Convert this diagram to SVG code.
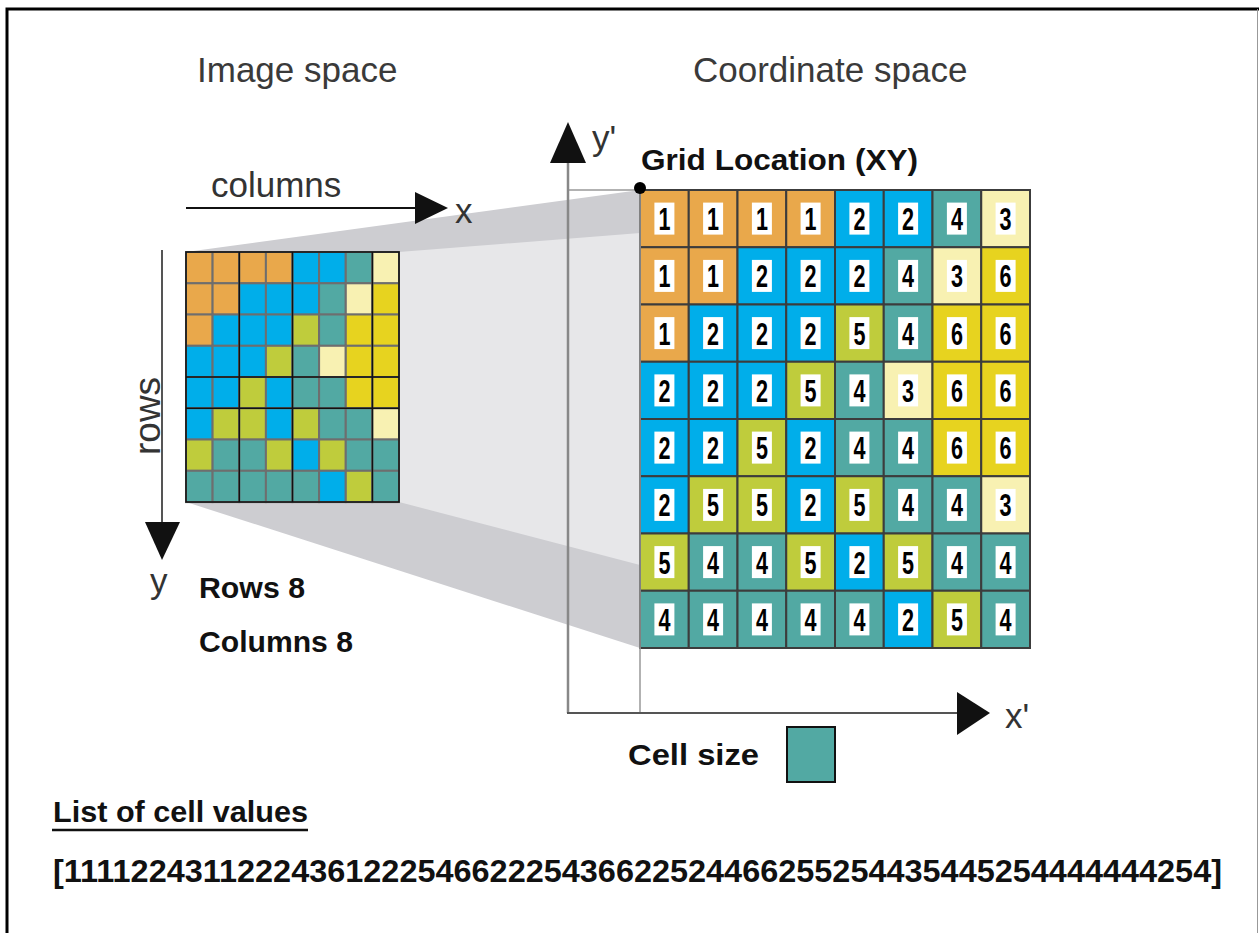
<svg xmlns="http://www.w3.org/2000/svg" width="1259" height="933" viewBox="0 0 1259 933">
<style>
.title{font-family:"Liberation Sans",Arial,sans-serif;font-size:35px;fill:#3a3a3a}
.ax{font-family:"Liberation Sans",Arial,sans-serif;font-size:35px;fill:#333}
.lbl{font-family:"Liberation Sans",Arial,sans-serif;font-size:30px;font-weight:bold;fill:#111}
.dg{font-family:"Liberation Sans",Arial,sans-serif;font-size:32px;font-weight:bold;fill:#000;text-anchor:middle}
.c1{fill:#E9A84B}.c2{fill:#00AEEA}.c3{fill:#F8F1B2}.c4{fill:#52A9A3}.c5{fill:#BFCC3C}.c6{fill:#E7D31F}
.sg rect{stroke:#6e6e6e;stroke-width:2}
.bg rect{stroke:#3c3c3c;stroke-width:2}
.wb{fill:#fff}
</style>
<rect width="1259" height="933" fill="#fff"/>
<path d="M7,933 V9 H1259" fill="none" stroke="#000" stroke-width="3"/>
<line x1="1257.5" y1="9" x2="1257.5" y2="933" stroke="#999" stroke-width="1"/>

<g id="projection">
<polygon points="186,252 640,190 640,648 186,502" fill="#cdcdd1"/>
<polygon points="399,252 640,233 640,565 399,502" fill="#e7e7e9"/>
</g>

<g id="titles">
<text class="title" x="197" y="82">Image space</text>
<text class="title" x="693" y="82">Coordinate space</text>
</g>

<g id="image-grid" class="sg">
<rect class="c1" x="186" y="252" width="26.6" height="31.3"/><rect class="c1" x="212.6" y="252" width="26.6" height="31.3"/><rect class="c1" x="239.3" y="252" width="26.6" height="31.3"/><rect class="c1" x="265.9" y="252" width="26.6" height="31.3"/><rect class="c2" x="292.5" y="252" width="26.6" height="31.3"/><rect class="c2" x="319.1" y="252" width="26.6" height="31.3"/><rect class="c4" x="345.8" y="252" width="26.6" height="31.3"/><rect class="c3" x="372.4" y="252" width="26.6" height="31.3"/>
<rect class="c1" x="186" y="283.3" width="26.6" height="31.3"/><rect class="c1" x="212.6" y="283.3" width="26.6" height="31.3"/><rect class="c2" x="239.3" y="283.3" width="26.6" height="31.3"/><rect class="c2" x="265.9" y="283.3" width="26.6" height="31.3"/><rect class="c2" x="292.5" y="283.3" width="26.6" height="31.3"/><rect class="c4" x="319.1" y="283.3" width="26.6" height="31.3"/><rect class="c3" x="345.8" y="283.3" width="26.6" height="31.3"/><rect class="c6" x="372.4" y="283.3" width="26.6" height="31.3"/>
<rect class="c1" x="186" y="314.5" width="26.6" height="31.3"/><rect class="c2" x="212.6" y="314.5" width="26.6" height="31.3"/><rect class="c2" x="239.3" y="314.5" width="26.6" height="31.3"/><rect class="c2" x="265.9" y="314.5" width="26.6" height="31.3"/><rect class="c5" x="292.5" y="314.5" width="26.6" height="31.3"/><rect class="c4" x="319.1" y="314.5" width="26.6" height="31.3"/><rect class="c6" x="345.8" y="314.5" width="26.6" height="31.3"/><rect class="c6" x="372.4" y="314.5" width="26.6" height="31.3"/>
<rect class="c2" x="186" y="345.8" width="26.6" height="31.3"/><rect class="c2" x="212.6" y="345.8" width="26.6" height="31.3"/><rect class="c2" x="239.3" y="345.8" width="26.6" height="31.3"/><rect class="c5" x="265.9" y="345.8" width="26.6" height="31.3"/><rect class="c4" x="292.5" y="345.8" width="26.6" height="31.3"/><rect class="c3" x="319.1" y="345.8" width="26.6" height="31.3"/><rect class="c6" x="345.8" y="345.8" width="26.6" height="31.3"/><rect class="c6" x="372.4" y="345.8" width="26.6" height="31.3"/>
<rect class="c2" x="186" y="377" width="26.6" height="31.3"/><rect class="c2" x="212.6" y="377" width="26.6" height="31.3"/><rect class="c5" x="239.3" y="377" width="26.6" height="31.3"/><rect class="c2" x="265.9" y="377" width="26.6" height="31.3"/><rect class="c4" x="292.5" y="377" width="26.6" height="31.3"/><rect class="c4" x="319.1" y="377" width="26.6" height="31.3"/><rect class="c6" x="345.8" y="377" width="26.6" height="31.3"/><rect class="c6" x="372.4" y="377" width="26.6" height="31.3"/>
<rect class="c2" x="186" y="408.3" width="26.6" height="31.3"/><rect class="c5" x="212.6" y="408.3" width="26.6" height="31.3"/><rect class="c5" x="239.3" y="408.3" width="26.6" height="31.3"/><rect class="c2" x="265.9" y="408.3" width="26.6" height="31.3"/><rect class="c5" x="292.5" y="408.3" width="26.6" height="31.3"/><rect class="c4" x="319.1" y="408.3" width="26.6" height="31.3"/><rect class="c4" x="345.8" y="408.3" width="26.6" height="31.3"/><rect class="c3" x="372.4" y="408.3" width="26.6" height="31.3"/>
<rect class="c5" x="186" y="439.5" width="26.6" height="31.3"/><rect class="c4" x="212.6" y="439.5" width="26.6" height="31.3"/><rect class="c4" x="239.3" y="439.5" width="26.6" height="31.3"/><rect class="c5" x="265.9" y="439.5" width="26.6" height="31.3"/><rect class="c2" x="292.5" y="439.5" width="26.6" height="31.3"/><rect class="c5" x="319.1" y="439.5" width="26.6" height="31.3"/><rect class="c4" x="345.8" y="439.5" width="26.6" height="31.3"/><rect class="c4" x="372.4" y="439.5" width="26.6" height="31.3"/>
<rect class="c4" x="186" y="470.8" width="26.6" height="31.3"/><rect class="c4" x="212.6" y="470.8" width="26.6" height="31.3"/><rect class="c4" x="239.3" y="470.8" width="26.6" height="31.3"/><rect class="c4" x="265.9" y="470.8" width="26.6" height="31.3"/><rect class="c4" x="292.5" y="470.8" width="26.6" height="31.3"/><rect class="c2" x="319.1" y="470.8" width="26.6" height="31.3"/><rect class="c5" x="345.8" y="470.8" width="26.6" height="31.3"/><rect class="c4" x="372.4" y="470.8" width="26.6" height="31.3"/>
<path d="M239.3,252V502M292.5,252V502M372.4,252V502M186,377H399M186,408.3H399" stroke="#111" stroke-width="1.5" fill="none"/>
<rect x="186" y="252" width="213" height="250" fill="none" style="stroke:#111;stroke-width:1.5"/>
</g>

<g id="coordinate-grid" class="bg">
<rect class="c1" x="640" y="190" width="48.75" height="57.25"/><rect class="c1" x="688.75" y="190" width="48.75" height="57.25"/><rect class="c1" x="737.5" y="190" width="48.75" height="57.25"/><rect class="c1" x="786.25" y="190" width="48.75" height="57.25"/><rect class="c2" x="835" y="190" width="48.75" height="57.25"/><rect class="c2" x="883.75" y="190" width="48.75" height="57.25"/><rect class="c4" x="932.5" y="190" width="48.75" height="57.25"/><rect class="c3" x="981.25" y="190" width="48.75" height="57.25"/>
<rect class="c1" x="640" y="247.25" width="48.75" height="57.25"/><rect class="c1" x="688.75" y="247.25" width="48.75" height="57.25"/><rect class="c2" x="737.5" y="247.25" width="48.75" height="57.25"/><rect class="c2" x="786.25" y="247.25" width="48.75" height="57.25"/><rect class="c2" x="835" y="247.25" width="48.75" height="57.25"/><rect class="c4" x="883.75" y="247.25" width="48.75" height="57.25"/><rect class="c3" x="932.5" y="247.25" width="48.75" height="57.25"/><rect class="c6" x="981.25" y="247.25" width="48.75" height="57.25"/>
<rect class="c1" x="640" y="304.5" width="48.75" height="57.25"/><rect class="c2" x="688.75" y="304.5" width="48.75" height="57.25"/><rect class="c2" x="737.5" y="304.5" width="48.75" height="57.25"/><rect class="c2" x="786.25" y="304.5" width="48.75" height="57.25"/><rect class="c5" x="835" y="304.5" width="48.75" height="57.25"/><rect class="c4" x="883.75" y="304.5" width="48.75" height="57.25"/><rect class="c6" x="932.5" y="304.5" width="48.75" height="57.25"/><rect class="c6" x="981.25" y="304.5" width="48.75" height="57.25"/>
<rect class="c2" x="640" y="361.75" width="48.75" height="57.25"/><rect class="c2" x="688.75" y="361.75" width="48.75" height="57.25"/><rect class="c2" x="737.5" y="361.75" width="48.75" height="57.25"/><rect class="c5" x="786.25" y="361.75" width="48.75" height="57.25"/><rect class="c4" x="835" y="361.75" width="48.75" height="57.25"/><rect class="c3" x="883.75" y="361.75" width="48.75" height="57.25"/><rect class="c6" x="932.5" y="361.75" width="48.75" height="57.25"/><rect class="c6" x="981.25" y="361.75" width="48.75" height="57.25"/>
<rect class="c2" x="640" y="419" width="48.75" height="57.25"/><rect class="c2" x="688.75" y="419" width="48.75" height="57.25"/><rect class="c5" x="737.5" y="419" width="48.75" height="57.25"/><rect class="c2" x="786.25" y="419" width="48.75" height="57.25"/><rect class="c4" x="835" y="419" width="48.75" height="57.25"/><rect class="c4" x="883.75" y="419" width="48.75" height="57.25"/><rect class="c6" x="932.5" y="419" width="48.75" height="57.25"/><rect class="c6" x="981.25" y="419" width="48.75" height="57.25"/>
<rect class="c2" x="640" y="476.25" width="48.75" height="57.25"/><rect class="c5" x="688.75" y="476.25" width="48.75" height="57.25"/><rect class="c5" x="737.5" y="476.25" width="48.75" height="57.25"/><rect class="c2" x="786.25" y="476.25" width="48.75" height="57.25"/><rect class="c5" x="835" y="476.25" width="48.75" height="57.25"/><rect class="c4" x="883.75" y="476.25" width="48.75" height="57.25"/><rect class="c4" x="932.5" y="476.25" width="48.75" height="57.25"/><rect class="c3" x="981.25" y="476.25" width="48.75" height="57.25"/>
<rect class="c5" x="640" y="533.5" width="48.75" height="57.25"/><rect class="c4" x="688.75" y="533.5" width="48.75" height="57.25"/><rect class="c4" x="737.5" y="533.5" width="48.75" height="57.25"/><rect class="c5" x="786.25" y="533.5" width="48.75" height="57.25"/><rect class="c2" x="835" y="533.5" width="48.75" height="57.25"/><rect class="c5" x="883.75" y="533.5" width="48.75" height="57.25"/><rect class="c4" x="932.5" y="533.5" width="48.75" height="57.25"/><rect class="c4" x="981.25" y="533.5" width="48.75" height="57.25"/>
<rect class="c4" x="640" y="590.75" width="48.75" height="57.25"/><rect class="c4" x="688.75" y="590.75" width="48.75" height="57.25"/><rect class="c4" x="737.5" y="590.75" width="48.75" height="57.25"/><rect class="c4" x="786.25" y="590.75" width="48.75" height="57.25"/><rect class="c4" x="835" y="590.75" width="48.75" height="57.25"/><rect class="c2" x="883.75" y="590.75" width="48.75" height="57.25"/><rect class="c5" x="932.5" y="590.75" width="48.75" height="57.25"/><rect class="c4" x="981.25" y="590.75" width="48.75" height="57.25"/>
</g>

<g id="cell-values">
<g id="value-boxes" class="wb">
<rect x="654.4" y="202.6" width="20" height="32"/><rect x="703.1" y="202.6" width="20" height="32"/><rect x="751.9" y="202.6" width="20" height="32"/><rect x="800.6" y="202.6" width="20" height="32"/><rect x="849.4" y="202.6" width="20" height="32"/><rect x="898.1" y="202.6" width="20" height="32"/><rect x="946.9" y="202.6" width="20" height="32"/><rect x="995.6" y="202.6" width="20" height="32"/>
<rect x="654.4" y="259.9" width="20" height="32"/><rect x="703.1" y="259.9" width="20" height="32"/><rect x="751.9" y="259.9" width="20" height="32"/><rect x="800.6" y="259.9" width="20" height="32"/><rect x="849.4" y="259.9" width="20" height="32"/><rect x="898.1" y="259.9" width="20" height="32"/><rect x="946.9" y="259.9" width="20" height="32"/><rect x="995.6" y="259.9" width="20" height="32"/>
<rect x="654.4" y="317.1" width="20" height="32"/><rect x="703.1" y="317.1" width="20" height="32"/><rect x="751.9" y="317.1" width="20" height="32"/><rect x="800.6" y="317.1" width="20" height="32"/><rect x="849.4" y="317.1" width="20" height="32"/><rect x="898.1" y="317.1" width="20" height="32"/><rect x="946.9" y="317.1" width="20" height="32"/><rect x="995.6" y="317.1" width="20" height="32"/>
<rect x="654.4" y="374.4" width="20" height="32"/><rect x="703.1" y="374.4" width="20" height="32"/><rect x="751.9" y="374.4" width="20" height="32"/><rect x="800.6" y="374.4" width="20" height="32"/><rect x="849.4" y="374.4" width="20" height="32"/><rect x="898.1" y="374.4" width="20" height="32"/><rect x="946.9" y="374.4" width="20" height="32"/><rect x="995.6" y="374.4" width="20" height="32"/>
<rect x="654.4" y="431.6" width="20" height="32"/><rect x="703.1" y="431.6" width="20" height="32"/><rect x="751.9" y="431.6" width="20" height="32"/><rect x="800.6" y="431.6" width="20" height="32"/><rect x="849.4" y="431.6" width="20" height="32"/><rect x="898.1" y="431.6" width="20" height="32"/><rect x="946.9" y="431.6" width="20" height="32"/><rect x="995.6" y="431.6" width="20" height="32"/>
<rect x="654.4" y="488.9" width="20" height="32"/><rect x="703.1" y="488.9" width="20" height="32"/><rect x="751.9" y="488.9" width="20" height="32"/><rect x="800.6" y="488.9" width="20" height="32"/><rect x="849.4" y="488.9" width="20" height="32"/><rect x="898.1" y="488.9" width="20" height="32"/><rect x="946.9" y="488.9" width="20" height="32"/><rect x="995.6" y="488.9" width="20" height="32"/>
<rect x="654.4" y="546.1" width="20" height="32"/><rect x="703.1" y="546.1" width="20" height="32"/><rect x="751.9" y="546.1" width="20" height="32"/><rect x="800.6" y="546.1" width="20" height="32"/><rect x="849.4" y="546.1" width="20" height="32"/><rect x="898.1" y="546.1" width="20" height="32"/><rect x="946.9" y="546.1" width="20" height="32"/><rect x="995.6" y="546.1" width="20" height="32"/>
<rect x="654.4" y="603.4" width="20" height="32"/><rect x="703.1" y="603.4" width="20" height="32"/><rect x="751.9" y="603.4" width="20" height="32"/><rect x="800.6" y="603.4" width="20" height="32"/><rect x="849.4" y="603.4" width="20" height="32"/><rect x="898.1" y="603.4" width="20" height="32"/><rect x="946.9" y="603.4" width="20" height="32"/><rect x="995.6" y="603.4" width="20" height="32"/>
</g>
<g id="value-digits">
<text class="dg" x="664.4" y="230" textLength="12" lengthAdjust="spacingAndGlyphs">1</text><text class="dg" x="713.1" y="230" textLength="12" lengthAdjust="spacingAndGlyphs">1</text><text class="dg" x="761.9" y="230" textLength="12" lengthAdjust="spacingAndGlyphs">1</text><text class="dg" x="810.6" y="230" textLength="12" lengthAdjust="spacingAndGlyphs">1</text><text class="dg" x="859.4" y="230" textLength="12" lengthAdjust="spacingAndGlyphs">2</text><text class="dg" x="908.1" y="230" textLength="12" lengthAdjust="spacingAndGlyphs">2</text><text class="dg" x="956.9" y="230" textLength="12" lengthAdjust="spacingAndGlyphs">4</text><text class="dg" x="1005.6" y="230" textLength="12" lengthAdjust="spacingAndGlyphs">3</text>
<text class="dg" x="664.4" y="287.3" textLength="12" lengthAdjust="spacingAndGlyphs">1</text><text class="dg" x="713.1" y="287.3" textLength="12" lengthAdjust="spacingAndGlyphs">1</text><text class="dg" x="761.9" y="287.3" textLength="12" lengthAdjust="spacingAndGlyphs">2</text><text class="dg" x="810.6" y="287.3" textLength="12" lengthAdjust="spacingAndGlyphs">2</text><text class="dg" x="859.4" y="287.3" textLength="12" lengthAdjust="spacingAndGlyphs">2</text><text class="dg" x="908.1" y="287.3" textLength="12" lengthAdjust="spacingAndGlyphs">4</text><text class="dg" x="956.9" y="287.3" textLength="12" lengthAdjust="spacingAndGlyphs">3</text><text class="dg" x="1005.6" y="287.3" textLength="12" lengthAdjust="spacingAndGlyphs">6</text>
<text class="dg" x="664.4" y="344.5" textLength="12" lengthAdjust="spacingAndGlyphs">1</text><text class="dg" x="713.1" y="344.5" textLength="12" lengthAdjust="spacingAndGlyphs">2</text><text class="dg" x="761.9" y="344.5" textLength="12" lengthAdjust="spacingAndGlyphs">2</text><text class="dg" x="810.6" y="344.5" textLength="12" lengthAdjust="spacingAndGlyphs">2</text><text class="dg" x="859.4" y="344.5" textLength="12" lengthAdjust="spacingAndGlyphs">5</text><text class="dg" x="908.1" y="344.5" textLength="12" lengthAdjust="spacingAndGlyphs">4</text><text class="dg" x="956.9" y="344.5" textLength="12" lengthAdjust="spacingAndGlyphs">6</text><text class="dg" x="1005.6" y="344.5" textLength="12" lengthAdjust="spacingAndGlyphs">6</text>
<text class="dg" x="664.4" y="401.8" textLength="12" lengthAdjust="spacingAndGlyphs">2</text><text class="dg" x="713.1" y="401.8" textLength="12" lengthAdjust="spacingAndGlyphs">2</text><text class="dg" x="761.9" y="401.8" textLength="12" lengthAdjust="spacingAndGlyphs">2</text><text class="dg" x="810.6" y="401.8" textLength="12" lengthAdjust="spacingAndGlyphs">5</text><text class="dg" x="859.4" y="401.8" textLength="12" lengthAdjust="spacingAndGlyphs">4</text><text class="dg" x="908.1" y="401.8" textLength="12" lengthAdjust="spacingAndGlyphs">3</text><text class="dg" x="956.9" y="401.8" textLength="12" lengthAdjust="spacingAndGlyphs">6</text><text class="dg" x="1005.6" y="401.8" textLength="12" lengthAdjust="spacingAndGlyphs">6</text>
<text class="dg" x="664.4" y="459" textLength="12" lengthAdjust="spacingAndGlyphs">2</text><text class="dg" x="713.1" y="459" textLength="12" lengthAdjust="spacingAndGlyphs">2</text><text class="dg" x="761.9" y="459" textLength="12" lengthAdjust="spacingAndGlyphs">5</text><text class="dg" x="810.6" y="459" textLength="12" lengthAdjust="spacingAndGlyphs">2</text><text class="dg" x="859.4" y="459" textLength="12" lengthAdjust="spacingAndGlyphs">4</text><text class="dg" x="908.1" y="459" textLength="12" lengthAdjust="spacingAndGlyphs">4</text><text class="dg" x="956.9" y="459" textLength="12" lengthAdjust="spacingAndGlyphs">6</text><text class="dg" x="1005.6" y="459" textLength="12" lengthAdjust="spacingAndGlyphs">6</text>
<text class="dg" x="664.4" y="516.3" textLength="12" lengthAdjust="spacingAndGlyphs">2</text><text class="dg" x="713.1" y="516.3" textLength="12" lengthAdjust="spacingAndGlyphs">5</text><text class="dg" x="761.9" y="516.3" textLength="12" lengthAdjust="spacingAndGlyphs">5</text><text class="dg" x="810.6" y="516.3" textLength="12" lengthAdjust="spacingAndGlyphs">2</text><text class="dg" x="859.4" y="516.3" textLength="12" lengthAdjust="spacingAndGlyphs">5</text><text class="dg" x="908.1" y="516.3" textLength="12" lengthAdjust="spacingAndGlyphs">4</text><text class="dg" x="956.9" y="516.3" textLength="12" lengthAdjust="spacingAndGlyphs">4</text><text class="dg" x="1005.6" y="516.3" textLength="12" lengthAdjust="spacingAndGlyphs">3</text>
<text class="dg" x="664.4" y="573.5" textLength="12" lengthAdjust="spacingAndGlyphs">5</text><text class="dg" x="713.1" y="573.5" textLength="12" lengthAdjust="spacingAndGlyphs">4</text><text class="dg" x="761.9" y="573.5" textLength="12" lengthAdjust="spacingAndGlyphs">4</text><text class="dg" x="810.6" y="573.5" textLength="12" lengthAdjust="spacingAndGlyphs">5</text><text class="dg" x="859.4" y="573.5" textLength="12" lengthAdjust="spacingAndGlyphs">2</text><text class="dg" x="908.1" y="573.5" textLength="12" lengthAdjust="spacingAndGlyphs">5</text><text class="dg" x="956.9" y="573.5" textLength="12" lengthAdjust="spacingAndGlyphs">4</text><text class="dg" x="1005.6" y="573.5" textLength="12" lengthAdjust="spacingAndGlyphs">4</text>
<text class="dg" x="664.4" y="630.8" textLength="12" lengthAdjust="spacingAndGlyphs">4</text><text class="dg" x="713.1" y="630.8" textLength="12" lengthAdjust="spacingAndGlyphs">4</text><text class="dg" x="761.9" y="630.8" textLength="12" lengthAdjust="spacingAndGlyphs">4</text><text class="dg" x="810.6" y="630.8" textLength="12" lengthAdjust="spacingAndGlyphs">4</text><text class="dg" x="859.4" y="630.8" textLength="12" lengthAdjust="spacingAndGlyphs">4</text><text class="dg" x="908.1" y="630.8" textLength="12" lengthAdjust="spacingAndGlyphs">2</text><text class="dg" x="956.9" y="630.8" textLength="12" lengthAdjust="spacingAndGlyphs">5</text><text class="dg" x="1005.6" y="630.8" textLength="12" lengthAdjust="spacingAndGlyphs">4</text>
</g>
</g>

<g id="connectors">
<line x1="186" y1="208" x2="420" y2="208" stroke="#111" stroke-width="2"/>
<polygon points="415,192 448,208 415,224" fill="#111"/>
<line x1="162" y1="250" x2="162" y2="525" stroke="#555" stroke-width="2"/>
<polygon points="145,522 180,522 162,560" fill="#111"/>
<line x1="568" y1="190" x2="640" y2="190" stroke="#999" stroke-width="1.5"/>
<line x1="640" y1="190" x2="640" y2="713" stroke="#999" stroke-width="1.5"/>
<line x1="568" y1="160" x2="568" y2="713" stroke="#888" stroke-width="2.5"/>
<polygon points="550,163 586,163 568,122" fill="#111"/>
<line x1="567" y1="713" x2="960" y2="713" stroke="#555" stroke-width="2"/>
<polygon points="957,692 990,713 957,735" fill="#111"/>
<circle cx="640" cy="188" r="6" fill="#000"/>
</g>

<g id="axis-labels">
<text class="ax" x="211" y="197">columns</text>
<text class="ax" x="455" y="223">x</text>
<text class="ax" transform="translate(160,455) rotate(-90)" x="0" y="0" style="font-size:37px">rows</text>
<text class="ax" x="150" y="593">y</text>
<text class="ax" x="592" y="150">y'</text>
<text class="ax" x="1005" y="728">x'</text>
</g>

<g id="grid-location">
<text class="lbl" x="641" y="170" textLength="277" lengthAdjust="spacingAndGlyphs" style="font-size:29px">Grid Location (XY)</text>
</g>

<g id="dimensions">
<text class="lbl" x="199" y="598" textLength="106" lengthAdjust="spacingAndGlyphs">Rows 8</text>
<text class="lbl" x="199" y="652" textLength="154" lengthAdjust="spacingAndGlyphs">Columns 8</text>
</g>

<g id="cell-size">
<text class="lbl" x="628" y="765" textLength="131" lengthAdjust="spacingAndGlyphs">Cell size</text>
<rect x="787" y="727" width="48" height="55" class="c4" stroke="#111" stroke-width="2"/>
</g>

<g id="cell-list">
<text class="lbl" x="53" y="822" textLength="255" lengthAdjust="spacingAndGlyphs">List of cell values</text>
<line x1="52" y1="830" x2="308" y2="830" stroke="#111" stroke-width="2.5"/>
<text class="lbl" x="53" y="882" style="font-size:32px" textLength="1169" lengthAdjust="spacingAndGlyphs">[1111224311222436122254662225436622524466255254435445254444444254]</text>
</g>
</svg>
